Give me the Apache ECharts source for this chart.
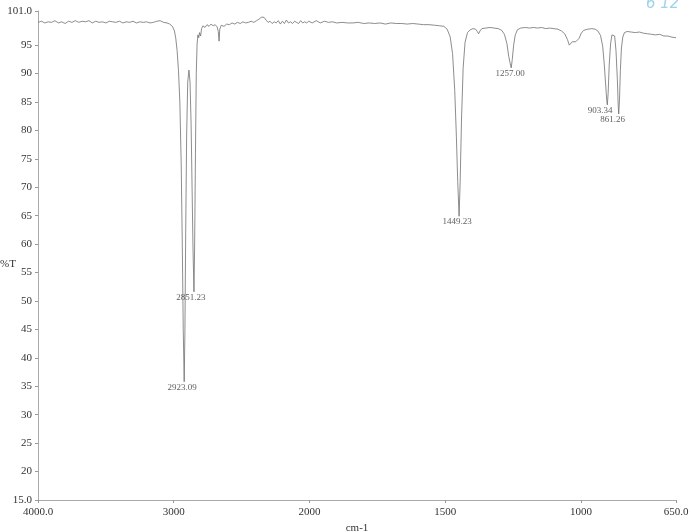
<!DOCTYPE html>
<html>
<head>
<meta charset="utf-8">
<script src="https://cdn.jsdelivr.net/npm/echarts@6/dist/echarts.min.js"></script>
<style>
html,body{margin:0;padding:0;background:#fff;}
#chart{width:695px;height:532px;}
</style>
</head>
<body>
<div id="chart"></div>
<script>
// Spectrum: wavenumber (cm-1) and transmittance (%T)
const wavenumbers = [
4000,3975,3950,3925,3900,3875,3850,3825,3800,3775,3750,3725,3700,3675,3650,3625,3600,3575,3550,3525,
3500,3475,3450,3425,3400,3375,3350,3325,3300,3275,3250,3225,3200,3175,3150,3125,3100,3075,3050,3030,
3010,2995,2985,2975,2965,2955,2945,2937,2930,2923,2918,2912,2905,2897,2888,2880,2872,2865,2858,2851,
2846,2840,2834,2828,2822,2816,2810,2802,2795,2785,2770,2755,2740,2725,2710,2695,2680,2672,2666,2661,
2650,2630,2610,2590,2570,2550,2530,2510,2490,2470,2450,2430,2410,2390,2370,2355,2345,2335,2320,2305,
2290,2275,2260,2245,2230,2215,2200,2185,2170,2155,2140,2125,2110,2095,2080,2065,2050,2035,2020,2005,
1990,1975,1960,1945,1930,1915,1900,1880,1860,1840,1820,1800,1780,1760,1740,1720,1700,1680,1660,1640,
1620,1600,1580,1560,1540,1520,1505,1493,1482,1473,1465,1459,1454,1449,1445,1440,1434,1427,1418,1408,
1398,1388,1382,1377,1372,1365,1350,1335,1320,1305,1292,1282,1273,1266,1261,1257,1253,1248,1242,1234,
1222,1205,1190,1175,1160,1145,1130,1115,1100,1085,1072,1060,1050,1043,1038,1032,1026,1019,1013,1007,
999,990,975,960,948,938,928,920,914,909,905,903,900,896,891,886,881,876,871,866,
863,861,858,855,851,846,840,830,815,800,785,770,755,740,725,710,695,680,665,650
];
const transmittance = [
99.0,99.2,98.9,99.1,99.0,99.3,98.9,99.1,98.8,99.2,99.0,99.3,99.0,99.2,99.1,99.3,98.9,99.2,99.0,99.1,
98.9,99.2,99.1,99.0,99.2,98.9,99.1,99.0,99.2,98.9,99.1,99.0,99.1,98.9,99.0,99.2,99.3,99.0,98.9,98.7,
98.3,97.5,96.2,94.0,90.5,85.0,74.0,60.0,45.0,35.8,44.0,62.0,79.0,88.5,90.6,88.5,81.0,70.0,59.0,51.6,
60.0,76.0,90.0,95.2,96.8,96.3,97.2,96.6,97.9,98.4,98.1,98.6,98.3,98.7,98.4,98.6,98.2,97.4,95.7,97.8,
98.5,98.3,98.7,98.6,98.9,98.7,99.0,98.8,99.1,98.9,99.0,99.2,99.0,99.3,99.6,99.9,99.8,99.9,99.4,99.0,
99.2,98.8,99.1,98.9,99.3,98.7,99.2,98.8,99.4,98.9,99.1,98.8,99.2,99.0,98.8,99.3,98.9,99.1,98.9,99.2,
98.9,99.3,98.9,99.2,99.0,99.1,98.9,99.0,98.9,98.9,99.0,98.8,98.9,98.8,98.9,98.7,98.9,98.8,98.8,98.7,
98.8,98.7,98.6,98.6,98.5,98.4,98.3,97.8,96.5,93.5,87.0,79.0,71.0,64.9,71.0,82.0,91.0,95.5,97.2,97.7,
97.9,97.8,97.4,97.0,97.5,97.9,98.0,98.1,98.0,97.9,97.6,96.9,95.3,93.0,91.8,91.0,92.5,95.0,96.8,97.7,
98.0,98.1,98.0,98.1,98.0,98.1,97.9,98.0,97.9,97.8,97.5,97.0,96.0,95.0,94.8,95.6,95.9,95.6,95.4,96.2,
97.1,97.6,97.8,97.9,97.8,97.5,96.7,94.8,91.5,88.0,85.2,84.5,86.5,91.5,95.2,96.8,97.1,96.6,94.0,89.0,
84.5,82.9,85.5,90.5,94.5,96.4,97.2,97.4,97.3,97.2,97.3,97.1,97.0,96.9,96.8,96.9,96.6,96.6,96.4,96.3
];

// Peak annotations
const peakWavenumbers = [2923.09, 2851.23, 1449.23, 1257.00, 903.34, 861.26];
const peakTransmittance = [35.8, 51.6, 64.9, 91.0, 84.5, 82.9];
const peakLabels = ["2923.09", "2851.23", "1449.23", "1257.00", "903.34", "861.26"];

// Axis ticks
const xTickWavenumbers = [4000, 3000, 2000, 1500, 1000, 650];
const xTickLabels = ["4000.0", "3000", "2000", "1500", "1000", "650.0"];
const yTickValues = [15, 20, 25, 30, 35, 40, 45, 50, 55, 60, 65, 70, 75, 80, 85, 90, 95, 101];
const yTickLabels = ["15.0","20","25","30","35","40","45","50","55","60","65","70","75","80","85","90","95","101.0"];

// Instrument axis: scale doubles below 2000 cm-1
function toAxis(w) {
  return w >= 2000 ? (4000 - w) / 1000 : 2 + (2000 - w) / 500;
}
const xTickPos = xTickWavenumbers.map(toAxis);

const lineData = wavenumbers.map((w, i) => [toAxis(w), transmittance[i]]);
const peakData = peakWavenumbers.map((w, i) => [toAxis(w), peakTransmittance[i]]);
const peakOffsets = [[-2, 0], [-3, 0], [-2, 0], [-1, 0], [-7, 0], [-6, 0]];

const FONT = '"Liberation Serif", "DejaVu Serif", serif';

function nearestLabel(vals, labels, v) {
  let best = 0;
  for (let i = 0; i < vals.length; i++) {
    if (Math.abs(vals[i] - v) < Math.abs(vals[best] - v)) best = i;
  }
  return labels[best];
}

const chart = echarts.init(document.getElementById('chart'), null, {renderer: 'canvas'});
chart.setOption({
  animation: false,
  backgroundColor: '#ffffff',
  grid: {left: 38, right: 19, top: 11, bottom: 32, outerBoundsMode: 'none', containLabel: false},
  xAxis: {
    type: 'value',
    min: 0,
    max: toAxis(650),
    name: 'cm-1',
    nameLocation: 'middle',
    nameGap: 21,
    nameTextStyle: {fontFamily: FONT, fontSize: 11, color: '#333'},
    splitLine: {show: false},
    axisLine: {show: true, lineStyle: {color: '#aaa', width: 1}},
    axisTick: {show: true, customValues: xTickPos, length: 3, lineStyle: {color: '#999'}},
    axisLabel: {
      customValues: xTickPos,
      fontFamily: FONT, fontSize: 11, color: '#333', margin: 7,
      formatter: function (v) { return nearestLabel(xTickPos, xTickLabels, v); }
    }
  },
  yAxis: {
    type: 'value',
    min: 15,
    max: 101,
    splitLine: {show: false},
    axisLine: {show: true, lineStyle: {color: '#aaa', width: 1}},
    axisTick: {show: true, customValues: yTickValues, length: 3, lineStyle: {color: '#999'}},
    axisLabel: {
      customValues: yTickValues,
      fontFamily: FONT, fontSize: 11, color: '#333', margin: 6,
      formatter: function (v) { return nearestLabel(yTickValues, yTickLabels, v); }
    }
  },
  graphic: [
    {
      type: 'text',
      left: 0,
      top: 259,
      style: {text: '%T', fill: '#333', font: '11px "Liberation Serif", serif'}
    },
    {
      type: 'text',
      left: 646,
      top: -3,
      style: {text: '6 12', fill: '#9fd3ea', font: 'italic 15px "DejaVu Sans", sans-serif'}
    }
  ],
  series: [
    {
      type: 'line',
      data: lineData,
      showSymbol: false,
      symbol: 'none',
      lineStyle: {color: '#707070', width: 0.8},
      z: 2
    },
    {
      type: 'scatter',
      data: peakData.map((p, i) => ({
        value: p,
        label: {offset: peakOffsets[i]}
      })),
      symbolSize: 0,
      label: {
        show: true,
        position: 'bottom',
        distance: 1,
        fontFamily: FONT,
        fontSize: 9,
        color: '#333',
        formatter: function (p) { return peakLabels[p.dataIndex]; }
      },
      z: 3
    }
  ]
});
</script>
</body>
</html>
